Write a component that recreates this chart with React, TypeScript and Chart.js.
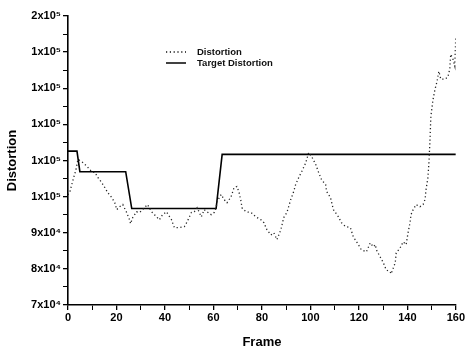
import React, { useEffect, useRef } from 'react';
import { Chart, registerables } from 'chart.js';

Chart.register(...registerables);

const distortionFrames = [
  0, 0.8, 2.1, 3.3, 4.1, 5.7, 7.0, 8.2, 9.8, 11.1,
  12.3, 13.9, 15.2, 16.4, 18.1, 19.3, 20.1, 21.3, 22.6, 24.2,
  25.4, 25.8, 26.7, 28.3, 29.5, 30.8, 32.8, 34.5, 35.7, 37.7,
  39.0, 40.6, 42.7, 43.9, 45.9, 48.0, 49.2, 50.9, 52.1, 53.3,
  55.0, 56.2, 57.4, 59.1, 60.3, 61.1, 61.5, 62.4, 63.2, 64.4,
  65.6, 67.3, 68.5, 69.7, 70.6, 71.4, 71.8, 73.4, 75.5, 77.5,
  79.6, 80.8, 82.1, 83.7, 84.9, 86.2, 87.8, 89.0, 90.3, 91.9,
  93.1, 93.9, 95.2, 96.4, 98.1, 99.3, 100.5, 102.2, 103.4, 104.6,
  106.3, 106.7, 108.3, 109.5, 111.6, 112.8, 114.5, 116.5, 117.7, 119.8,
  121.0, 123.1, 124.7, 126.0, 126.8, 127.2, 128.8, 130.1, 131.3, 132.9,
  133.3, 135.0, 135.4, 137.0, 138.3, 139.5, 140.3, 141.1, 141.5, 142.4,
  143.6, 145.2, 146.5, 147.3, 147.7, 148.5, 148.9, 149.1, 149.3, 149.5,
  149.7, 150.6, 151.4, 152.2, 153.0, 153.8, 155.5, 156.7, 157.5, 157.9,
  158.8, 159.6, 159.8, 160,
];

const distortionValues = [
  100500, 101400, 104700, 107500, 110300, 109700, 108900, 108100, 106900, 106700,
  105300, 103900, 102500, 101100, 99700, 98300, 96400, 97200, 97800, 95600,
  93600, 92500, 94200, 95800, 95600, 96400, 97800, 95800, 95000, 93600,
  95000, 95800, 93600, 91400, 91400, 91700, 93100, 95600, 95800, 96900,
  94400, 96400, 95800, 95000, 95600, 96900, 98600, 99700, 100600, 99200,
  98300, 100000, 102500, 102800, 101100, 98600, 96900, 95800, 95600, 94400,
  93600, 92800, 90800, 89400, 90000, 88100, 90800, 94200, 95600, 99200,
  101400, 103300, 105300, 106900, 109400, 112200, 111100, 108900, 106700, 104700,
  103300, 101400, 99700, 96400, 94400, 92800, 91700, 91400, 88900, 86700,
  85300, 84700, 87200, 86100, 86700, 85300, 83300, 81700, 79700, 79200,
  78600, 81700, 84400, 85800, 87500, 86700, 90000, 92800, 95000, 96400,
  97800, 97200, 97800, 99200, 101900, 105300, 109400, 112200, 115000, 118600,
  122200, 126900, 129700, 131700, 134700, 132500, 132500, 133100, 135300, 139400,
  138100, 136100, 140800, 144200,
];

const targetFrames = [0, 3.7, 4.9, 23.8, 26.3, 61.1, 63.6, 160];
const targetValues = [112600, 112600, 106900, 106900, 96700, 96700, 111700, 111700];

const xTickValues = [0, 20, 40, 60, 80, 100, 120, 140, 160];
const yTickValues = [70000, 80000, 90000, 100000, 110000, 120000, 130000, 140000, 150000];
const yTickLabels = ['7x10⁴', '8x10⁴', '9x10⁴', '1x10⁵', '1x10⁵', '1x10⁵', '1x10⁵', '1x10⁵', '2x10⁵'];

const seriesNames = ['Distortion', 'Target Distortion'];

const FONT = '"Liberation Sans", Arial, sans-serif';

const legendPlugin = {
  id: 'insideLegend',
  afterDraw(chart: any) {
    const ctx = chart.ctx;
    const ds = chart.data.datasets;
    ctx.save();
    ctx.font = 'bold 9.5px ' + FONT;
    ctx.fillStyle = '#111';
    ctx.textBaseline = 'middle';
    const rows = [52, 63];
    ds.forEach((d: any, i: number) => {
      const y = rows[i];
      ctx.beginPath();
      ctx.strokeStyle = '#111';
      ctx.lineWidth = d.borderWidth;
      ctx.setLineDash(d.borderDash || []);
      ctx.moveTo(166, y);
      ctx.lineTo(186, y);
      ctx.stroke();
      ctx.setLineDash([]);
      ctx.fillText(d.label, 197, y);
    });
    ctx.restore();
  },
};

export default function App() {
  const ref = useRef<HTMLCanvasElement>(null);
  useEffect(() => {
    if (!ref.current) return;
    const chart = new Chart(ref.current, {
      type: 'line',
      data: {
        datasets: [
          {
            label: seriesNames[0],
            data: distortionFrames.map((f, i) => ({ x: f, y: distortionValues[i] })),
            borderColor: '#222',
            borderWidth: 1.3,
            borderDash: [1.2, 2.6],
            pointRadius: 0,
            tension: 0,
            fill: false,
          },
          {
            label: seriesNames[1],
            data: targetFrames.map((f, i) => ({ x: f, y: targetValues[i] })),
            borderColor: '#000',
            borderWidth: 1.6,
            pointRadius: 0,
            tension: 0,
            fill: false,
          },
        ],
      },
      options: {
        responsive: false,
        maintainAspectRatio: false,
        animation: false,
        devicePixelRatio: 1,
        layout: { padding: { top: 16, right: 8, left: 0, bottom: 0 } },
        plugins: {
          legend: { display: false },
          tooltip: { enabled: false },
        },
        scales: {
          x: {
            type: 'linear',
            min: 0,
            max: 160,
            afterFit: (s: any) => { s.height = 45; },
            afterBuildTicks: (s: any) => {
              const arr: any[] = [];
              for (let v = 0; v <= 160; v += 10) arr.push({ value: v });
              s.ticks = arr;
            },
            ticks: {
              autoSkip: false,
              maxRotation: 0,
              color: '#000',
              padding: 1,
              font: { family: FONT, size: 11, weight: 'bold' },
              callback: (v: any) => (xTickValues.includes(v) ? String(v) : ''),
            },
            grid: {
              drawOnChartArea: false,
              drawTicks: true,
              tickLength: 5,
              color: '#000',
              lineWidth: (c: any) => (xTickValues.includes(c.tick?.value) ? 1.3 : 1),
            },
            border: { display: true, color: '#000', width: 1.6 },
            title: {
              display: true,
              text: 'Frame',
              color: '#000',
              font: { family: FONT, size: 13, weight: 'bold' },
              padding: { top: 0, bottom: 0 },
            },
          },
          y: {
            type: 'linear',
            min: 70000,
            max: 150000,
            afterFit: (s: any) => { s.width = 68; },
            afterBuildTicks: (s: any) => {
              const arr: any[] = [];
              for (let v = 70000; v <= 150000; v += 5000) arr.push({ value: v });
              s.ticks = arr;
            },
            ticks: {
              autoSkip: false,
              color: '#000',
              padding: 2,
              font: { family: FONT, size: 11, weight: 'bold' },
              callback: (v: any) => {
                const idx = yTickValues.indexOf(v);
                return idx >= 0 ? yTickLabels[idx] : '';
              },
            },
            grid: {
              drawOnChartArea: false,
              drawTicks: true,
              tickLength: 5,
              color: '#000',
              lineWidth: (c: any) => (yTickValues.includes(c.tick?.value) ? 1.3 : 1),
            },
            border: { display: true, color: '#000', width: 1.6 },
            title: {
              display: true,
              text: 'Distortion',
              color: '#000',
              font: { family: FONT, size: 13, weight: 'bold' },
              padding: { top: 5, bottom: 0 },
            },
          },
        },
      },
      plugins: [legendPlugin],
    } as any);
    return () => chart.destroy();
  }, []);
  return (
    <div style={{ position: 'absolute', left: 0, top: 0, width: 466, height: 350, background: '#fff' }}>
      <canvas ref={ref} width={466} height={350} />
    </div>
  );
}
